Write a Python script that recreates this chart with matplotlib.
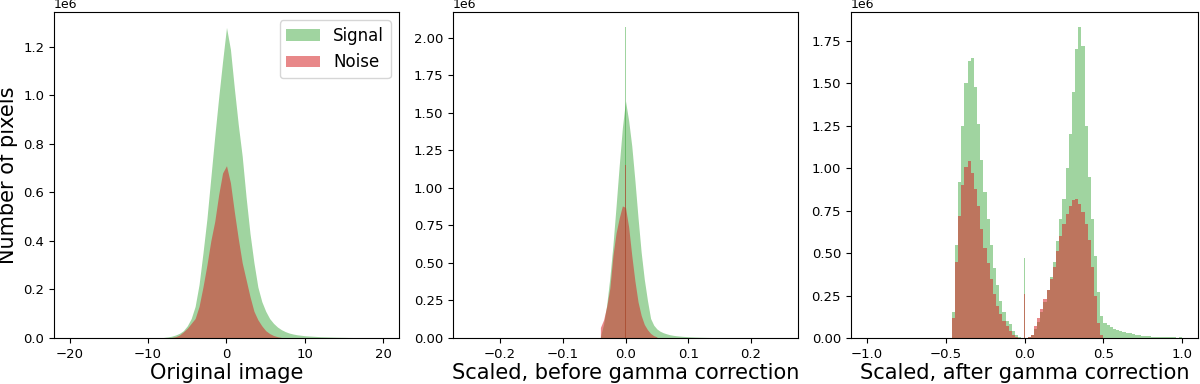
#!/usr/bin/env python3
import numpy as np
import matplotlib
matplotlib.use('Agg')
import matplotlib.pyplot as plt

# Panel 1: original image, read every 0.5 (counts in units of 1e6)
p1_step = 0.5
p1_sig_start = -8.0
p1_sig = [0.002, 0.004, 0.007, 0.012, 0.019, 0.03, 0.05, 0.08, 0.13, 0.22,
          0.35, 0.49, 0.66, 0.83, 0.99, 1.14, 1.28, 1.19, 1.03, 0.88,
          0.75, 0.58, 0.43, 0.31, 0.21, 0.15, 0.11, 0.08, 0.06, 0.045,
          0.034, 0.026, 0.02, 0.016, 0.013, 0.011, 0.009, 0.008, 0.007, 0.006,
          0.005, 0.0045, 0.004, 0.0035, 0.003, 0.0027, 0.0024, 0.002, 0.0018, 0.0016,
          0.0014, 0.0012, 0.001, 0.0009, 0.0008, 0.0007, 0.0006]
p1_noise_start = -7.0
p1_noise = [0.002, 0.005, 0.012, 0.025, 0.04, 0.06, 0.08, 0.13, 0.21, 0.30,
            0.40, 0.48, 0.59, 0.68, 0.71, 0.64, 0.52, 0.41, 0.31, 0.24,
            0.17, 0.11, 0.075, 0.05, 0.03, 0.018, 0.01, 0.005, 0.002]

# Panel 2: scaled, before gamma correction, read every 0.005
p2_step = 0.005
p2_sig_start = -0.04
p2_sig = [0.01, 0.09, 0.22, 0.40, 0.62, 0.88, 1.15, 1.40, 1.58, 1.45,
          1.28, 1.05, 0.80, 0.57, 0.39, 0.25, 0.13, 0.085, 0.06, 0.045,
          0.035, 0.028, 0.022, 0.018, 0.015, 0.013, 0.011, 0.0095, 0.008, 0.007,
          0.006, 0.0052, 0.0045, 0.004, 0.0035, 0.003, 0.0027, 0.0024, 0.0021, 0.0018,
          0.0016, 0.0014, 0.0012, 0.001, 0.0009, 0.0008, 0.0007, 0.0006, 0.0005, 0.0004]
p2_noise_start = -0.04
p2_noise = [0.07, 0.12, 0.21, 0.33, 0.55, 0.70, 0.80, 0.88, 0.87, 0.74,
            0.55, 0.38, 0.24, 0.15, 0.09, 0.055, 0.03, 0.015, 0.007]
p2_spike = [2.07, 1.15]   # signal, noise at exactly 0

# Panel 3: scaled, after gamma correction, bins of 0.02
p3_step = 0.02
p3_sig_start = -0.45
p3_sig = [0.15, 0.55, 0.92, 1.25, 1.50, 1.63, 1.65, 1.48, 1.26, 1.05,
          0.86, 0.70, 0.55, 0.41, 0.31, 0.22, 0.15, 0.10, 0.08, 0.04,
          0.015, 0.005, 0.0, 0.0, 0.005, 0.02, 0.05, 0.095, 0.15, 0.21,
          0.28, 0.36, 0.45, 0.57, 0.70, 0.82, 1.00, 1.20, 1.45, 1.70,
          1.83, 1.72, 1.25, 0.95, 0.70, 0.48, 0.27, 0.13, 0.09, 0.075,
          0.065, 0.055, 0.048, 0.042, 0.036, 0.031, 0.027, 0.023, 0.02, 0.017,
          0.014, 0.012, 0.010, 0.008, 0.007, 0.006, 0.005, 0.004, 0.0035, 0.003,
          0.0025, 0.002, 0.008]
p3_noise_start = -0.45
p3_noise = [0.12, 0.45, 0.72, 0.90, 1.01, 1.04, 0.97, 0.88, 0.78, 0.64,
            0.53, 0.44, 0.35, 0.26, 0.19, 0.14, 0.10, 0.07, 0.04, 0.02,
            0.008, 0.002, 0.0, 0.0, 0.003, 0.02, 0.07, 0.12, 0.17, 0.23,
            0.28, 0.35, 0.42, 0.51, 0.60, 0.67, 0.73, 0.78, 0.81, 0.82,
            0.79, 0.74, 0.67, 0.58, 0.42, 0.25, 0.09, 0.02]
p3_spike = [0.47, 0.26]

SIG_COLOR = 'tab:green'
NOISE_COLOR = 'tab:red'
SIG_ALPHA = 0.45
NOISE_ALPHA = 0.55


def draw_smooth(ax, start, step, values, color, alpha, label=None):
    # very fine bins in the source: draw as a filled outline
    counts = np.array(values) * 1e6
    x = start + step * np.arange(len(counts))
    ax.fill_between(x, 0, counts, color=color, alpha=alpha,
                    linewidth=0, label=label)


def draw_hist(ax, start, step, values, color, alpha, label=None):
    counts = np.array(values) * 1e6
    edges = start - step / 2 + step * np.arange(len(counts) + 1)
    ax.stairs(counts, edges, fill=True, color=color, alpha=alpha,
              linewidth=0, label=label)


def draw_spike(ax, heights, width):
    ax.bar([0.0], [heights[0] * 1e6], width=width, color=SIG_COLOR,
           alpha=SIG_ALPHA, linewidth=0)
    ax.bar([0.0], [heights[1] * 1e6], width=width, color=NOISE_COLOR,
           alpha=NOISE_ALPHA, linewidth=0)


fig = plt.figure(figsize=(12, 3.84), dpi=100)
ax1 = fig.add_axes([0.045, 0.12, 0.2875, 0.849])
ax2 = fig.add_axes([0.3775, 0.12, 0.2875, 0.849])
ax3 = fig.add_axes([0.709, 0.12, 0.2895, 0.849])

draw_smooth(ax1, p1_sig_start, p1_step, p1_sig, SIG_COLOR, SIG_ALPHA, 'Signal')
draw_smooth(ax1, p1_noise_start, p1_step, p1_noise, NOISE_COLOR, NOISE_ALPHA, 'Noise')
ax1.set_xlim(-22, 22)
ax1.set_ylim(0, max(p1_sig) * 1e6 * 1.05)
ax1.set_xlabel('Original image', fontsize=15, labelpad=2)
ax1.set_ylabel('Number of pixels', fontsize=15)
ax1.legend(loc='upper right', fontsize=12)

draw_smooth(ax2, p2_sig_start, p2_step, p2_sig, SIG_COLOR, SIG_ALPHA)
draw_smooth(ax2, p2_noise_start, p2_step, p2_noise, NOISE_COLOR, NOISE_ALPHA)
draw_spike(ax2, p2_spike, 0.0025)
ax2.set_xlim(-0.275, 0.275)
ax2.set_ylim(0, max(p2_spike) * 1e6 * 1.05)
ax2.set_xlabel('Scaled, before gamma correction', fontsize=15, labelpad=2)

draw_hist(ax3, p3_sig_start, p3_step, p3_sig, SIG_COLOR, SIG_ALPHA)
draw_hist(ax3, p3_noise_start, p3_step, p3_noise, NOISE_COLOR, NOISE_ALPHA)
draw_spike(ax3, p3_spike, 0.01)
ax3.set_xlim(-1.1, 1.1)
ax3.set_ylim(0, max(p3_sig) * 1e6 * 1.05)
ax3.set_xlabel('Scaled, after gamma correction', fontsize=15, labelpad=2)

for ax in (ax1, ax2, ax3):
    ax.tick_params(labelsize=9.5)
    ax.yaxis.get_offset_text().set_fontsize(9)

fig.savefig('out.png', dpi=100)
